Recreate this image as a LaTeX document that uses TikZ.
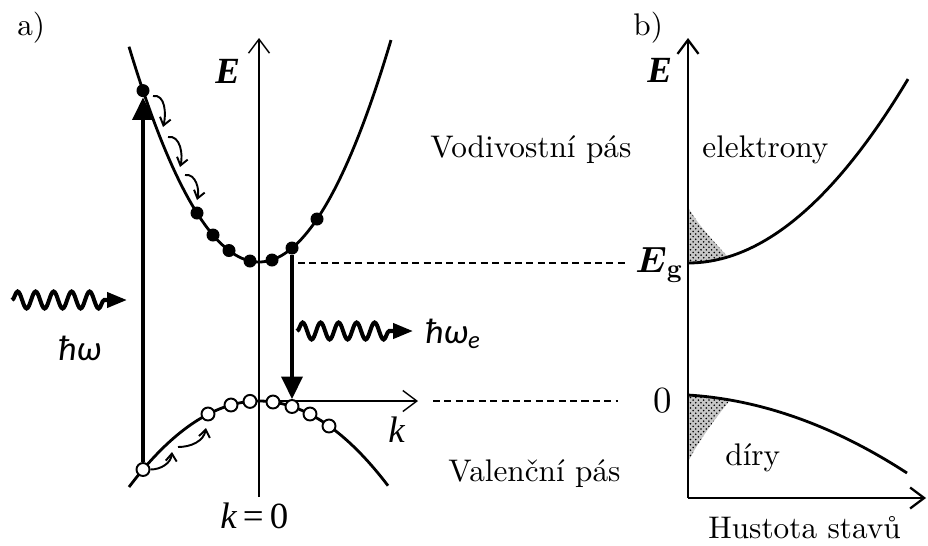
\documentclass[tikz,border=0pt]{standalone}
\usepackage{amsmath}
\usepackage{fontspec}
\setmainfont{lmroman10-regular.otf}[BoldFont=lmroman10-bold.otf, ItalicFont=lmroman10-italic.otf, BoldItalicFont=lmroman10-bolditalic.otf]
\newfontfamily\timesfont{Liberation Serif}
\newfontfamily\calibrifont{Carlito}
\usetikzlibrary{arrows.meta, patterns, decorations.pathmorphing}
\tikzset{
    lbl/.style={font=\fontsize{17.8}{21}\selectfont, anchor=base west, inner sep=0pt},
    sym/.style={font=\fontsize{21}{24}\selectfont\timesfont, anchor=base west, inner sep=0pt},
    photon/.style={font=\fontsize{20}{24}\selectfont\calibrifont\itshape, anchor=base west, inner sep=0pt},
    eldot/.style={circle, fill=black, inner sep=0pt, minimum size=0.26cm},
    holedot/.style={circle, draw=black, line width=1.1pt, fill=white, inner sep=0pt, minimum size=0.26cm},
    band/.style={line width=1.6pt},
    axis/.style={line width=0.8pt, -{Straight Barb[length=0.28cm, width=0.42cm]}},
    jump/.style={line width=2.2pt, -{Triangle[length=0.45cm, width=0.42cm]}},
    relax/.style={line width=1.1pt, -{Straight Barb[length=0.15cm, width=0.22cm]}},
    level/.style={line width=0.9pt, dash pattern=on 4pt off 2.5pt},
    wave/.style={line width=2.3pt, decorate, decoration={snake, amplitude=0.17cm, segment length=0.36cm, post length=0.45cm}, -{Triangle[length=0.4cm, width=0.3cm]}},
    shade/.style={preaction={fill=black!22}, pattern=crosshatch dots, pattern color=black}
}

\begin{document}
\begin{tikzpicture}[x=0.02cm, y=-0.02cm]
    \useasboundingbox (0,0) rectangle (928,545);
    \node [lbl] (pa) at (17,35) {a)};
    \node [lbl] (pb) at (633,35) {b)};

    \coordinate (kzero) at (259,401);
    \draw [axis] (259,497) -- (259,38);
    \draw [axis] (kzero) -- (418,401);
    \node [sym, font=\fontsize{21}{24}\selectfont\timesfont\bfseries\itshape] (E1) at (215,83) {E};
    \node [sym] (k) at (388,442) {\itshape k};
    \node [sym] (k0) at (220,528) {{\itshape k}\,=\,0};

    \draw [band] plot[domain=-13:13.2, samples=80] ({259+10*\x},{262-1.274*(\x)*(\x)});
    \draw [band] plot[domain=-13:12.9, samples=80] ({259+10*\x},{401+0.509*(\x)*(\x)});

    \coordinate (l1) at (298,263);
    \coordinate (l2) at (433,401);
    \node [sym, font=\fontsize{21}{24}\selectfont] (Eg) at (635,272) {$\boldsymbol{E}_{\mathbf{g}}$};
    \node [sym, font=\fontsize{21}{24}\selectfont] (zero) at (653,412) {0};
    \draw [level] (l1) -- (625,263);
    \draw [level] (l2) -- (618,401);

    \node [eldot] (e1) at (143,90.6) {};
    \node [eldot] (e2) at (197,213) {};
    \node [eldot] (e3) at (213,235) {};
    \node [eldot] (e4) at (229,250.5) {};
    \node [eldot] (e5) at (250,261) {};
    \node [eldot] (e6) at (272,260) {};
    \node [eldot] (e7) at (292,248) {};
    \node [eldot] (e8) at (317,219) {};
    \node [holedot] (h1) at (143,469.5) {};
    \node [holedot] (h2) at (208,414) {};
    \node [holedot] (h3) at (231,405) {};
    \node [holedot] (h4) at (250,401.4) {};
    \node [holedot] (h5) at (273,402) {};
    \node [holedot] (h6) at (292,406.5) {};
    \node [holedot] (h7) at (310,414) {};
    \node [holedot] (h8) at (329,426) {};

    \draw [jump] (h1.north) -- (e1.south);
    \draw [jump] (e7.south) -- (h6.north);

    \coordinate (c1a) at (153,96);
    \coordinate (c1b) at (163,127);
    \coordinate (c2a) at (168,137);
    \coordinate (c2b) at (180,167);
    \coordinate (c3a) at (185,175);
    \coordinate (c3b) at (197,200);
    \draw [relax] (c1a) to[out=10, in=75] (c1b);
    \draw [relax] (c2a) to[out=10, in=75] (c2b);
    \draw [relax] (c3a) to[out=10, in=75] (c3b);
    \coordinate (v1b) at (172,452);
    \coordinate (v2a) at (178,447);
    \coordinate (v2b) at (206,428);
    \draw [relax] (h1.east) to[out=0, in=-95] (v1b);
    \draw [relax] (v2a) to[out=0, in=-100] (v2b);

    \coordinate (w1a) at (12,300);
    \coordinate (w1b) at (127,300);
    \coordinate (w2a) at (297,331);
    \draw [wave] (w1a) -- (w1b);
    \node [photon] (hw) at (58,360) {ħω};
    \node [photon] (hwe) at (425,343) {ħω\textsubscript{e}};
    \draw [wave] (w2a) -- ([xshift=-0.24cm]hwe.west |- w2a);

    \node [lbl] (cb) at (430,157) {Vodivostní pás};
    \node [lbl] (vb) at (448,481) {Valenční pás};

    \coordinate (o2) at (688,498);
    \fill [shade] (688,207) -- plot[domain=0:4, samples=20] ({688+10*\x},{263-0.38*(\x)*(\x)}) .. controls (712,240) and (696,222) .. (688,207) -- cycle;
    \fill [shade] (688,462) -- plot[domain=0:4.2, samples=20] ({688+10*\x},{395+0.134*(\x)*(\x)+0.628*\x}) .. controls (714,420) and (696,445) .. (688,462) -- cycle;
    \draw [axis, line width=1.3pt] (o2) -- (688,38);
    \draw [axis, line width=1.3pt] (o2) -- (926,498);
    \node [sym, font=\fontsize{21}{24}\selectfont\timesfont\bfseries\itshape] (E2) at (647,82) {E};
    \draw [band] plot[domain=0:22, samples=60] ({688+10*\x},{263-0.38*(\x)*(\x)});
    \draw [band] plot[domain=0:21.9, samples=60] ({688+10*\x},{395+0.134*(\x)*(\x)+0.628*\x});
    \node [lbl] (el) at (702,157) {elektrony};
    \node [lbl] (di) at (725,465) {díry};
    \node [lbl] (dos) at (708,538) {Hustota stavů};
\end{tikzpicture}
\end{document}
